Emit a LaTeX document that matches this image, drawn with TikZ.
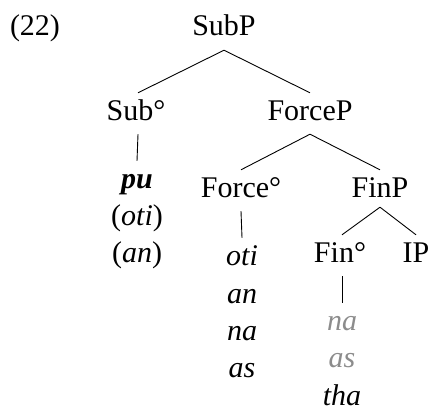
\documentclass[tikz,border=0pt]{standalone}
\usepackage{fontspec}
\setmainfont{Liberation Serif}
\definecolor{lightgr}{gray}{0.55}
\begin{document}
\begin{tikzpicture}[x=1pt,y=-1pt,
  lbl/.style={anchor=base,font=\fontsize{30}{36}\selectfont,inner sep=0pt},
  tn/.style={lbl,text height=21pt,text depth=8pt,inner ysep=6pt},
  edge/.style={line width=0.9pt}]
\useasboundingbox (0,0) rectangle (430,409);
% example number
\node[lbl] (num) at (35,36) {(22)};
% tree nodes
\node[tn] (SubP) at (224,36) {SubP};
\node[tn] (Sub) at (136,120) {Sub°};
\node[tn] (ForceP) at (310,120) {ForceP};
\node[tn] (Force) at (241,197) {Force°};
\node[tn] (FinP) at (380,197) {FinP};
\node[tn] (Fin) at (340,262) {Fin°};
\node[tn] (IP) at (416,262) {IP};
% leaves under Sub
\node[tn] (pu) at (137,188) {\textbf{\textit{pu}}};
\node[lbl] (oti1) at (137,225) {(\textit{oti})};
\node[lbl] (an1) at (137,262) {(\textit{an})};
% leaves under Force
\node[tn] (oti2) at (242,265) {\textit{oti}};
\node[lbl] (an2) at (242,303) {\textit{an}};
\node[lbl] (na2) at (242,340) {\textit{na}};
\node[lbl] (as2) at (242,377) {\textit{as}};
% leaves under Fin
\node[tn,text=lightgr] (na3) at (342,330) {\textit{na}};
\node[lbl,text=lightgr] (as3) at (342,367) {\textit{as}};
\node[lbl] (tha3) at (342,405) {\textit{tha}};
% edges
\draw[edge] (SubP.south) -- ([xshift=2pt]Sub.north);
\draw[edge] (SubP.south) -- (ForceP.north);
\draw[edge] ([xshift=2pt]Sub.south) -- (pu.north);
\draw[edge] (ForceP.south) -- (Force.north);
\draw[edge] (ForceP.south) -- (FinP.north);
\draw[edge] (Force.south) -- (oti2.north);
\draw[edge] ([yshift=4pt]FinP.south) -- ([xshift=2pt]Fin.north);
\draw[edge] ([yshift=4pt]FinP.south) -- (IP.north);
\draw[edge] ([xshift=2pt]Fin.south) -- (na3.north);
\end{tikzpicture}
\end{document}
